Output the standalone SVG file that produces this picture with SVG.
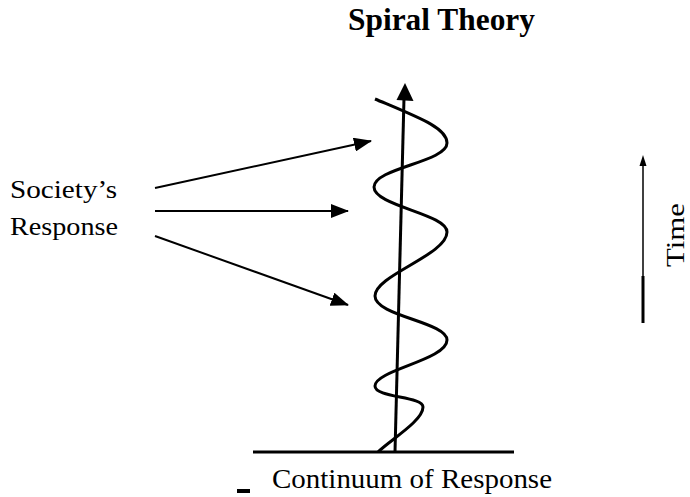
<svg xmlns="http://www.w3.org/2000/svg" width="690" height="497" viewBox="0 0 690 497">
<style>
text{font-family:"Liberation Serif","Times New Roman","DejaVu Serif",serif;fill:#000}
.ln{stroke:#000;fill:none;stroke-linecap:butt}
</style>
<defs>
<marker id="ah" markerWidth="18" markerHeight="14" refX="17" refY="7" orient="auto" markerUnits="userSpaceOnUse">
<path d="M0,0 L18,7 L0,14 Z" fill="#000"/>
</marker>
</defs>
<rect width="690" height="497" fill="#fff"/>
<g id="title"><text x="348" y="30" font-size="31" font-weight="bold" textLength="187" lengthAdjust="spacingAndGlyphs">Spiral Theory</text></g>
<g id="society"><text x="10" y="198" font-size="26" textLength="107" lengthAdjust="spacingAndGlyphs">Society’s</text><text x="10" y="235" font-size="26" textLength="108" lengthAdjust="spacingAndGlyphs">Response</text></g>
<g id="time"><text transform="translate(684,267) rotate(-90)" font-size="26" textLength="64" lengthAdjust="spacingAndGlyphs">Time</text></g>
<g id="continuum"><text x="272" y="488" font-size="28" textLength="280" lengthAdjust="spacingAndGlyphs">Continuum of Response</text><rect x="237" y="489" width="13" height="4" fill="#000"/></g>
<g id="spiral"><path class="ln" stroke-width="3" d="M375,99 C420,118 447,128 447,143 C447,162 374,168 374,187 C374,206 447,214 447,232 C447,255 375,275 375,296 C375,316 447,322 447,340 C447,360 375,370 375,386 C375,398 423,396 423,407 C423,421 390,440 378,452"/></g>
<g id="connectors">
<line class="ln" x1="253" y1="452" x2="514" y2="452" stroke-width="3"/>
<line class="ln" x1="395" y1="452" x2="404" y2="98" stroke-width="3"/>
<path d="M405,83 L413.5,101 L396.5,100 Z" fill="#000"/>
<line class="ln" x1="155" y1="188" x2="371" y2="141" stroke-width="2" marker-end="url(#ah)"/>
<line class="ln" x1="155" y1="211" x2="348" y2="211" stroke-width="2" marker-end="url(#ah)"/>
<line class="ln" x1="155" y1="236" x2="348" y2="305" stroke-width="2" marker-end="url(#ah)"/>
<line class="ln" x1="643" y1="276" x2="643" y2="323" stroke-width="3"/>
<line class="ln" x1="643" y1="164" x2="643" y2="277" stroke-width="1.5"/>
<path d="M643,155 L646.5,166 L639.5,166 Z" fill="#000"/>
</g>
</svg>
